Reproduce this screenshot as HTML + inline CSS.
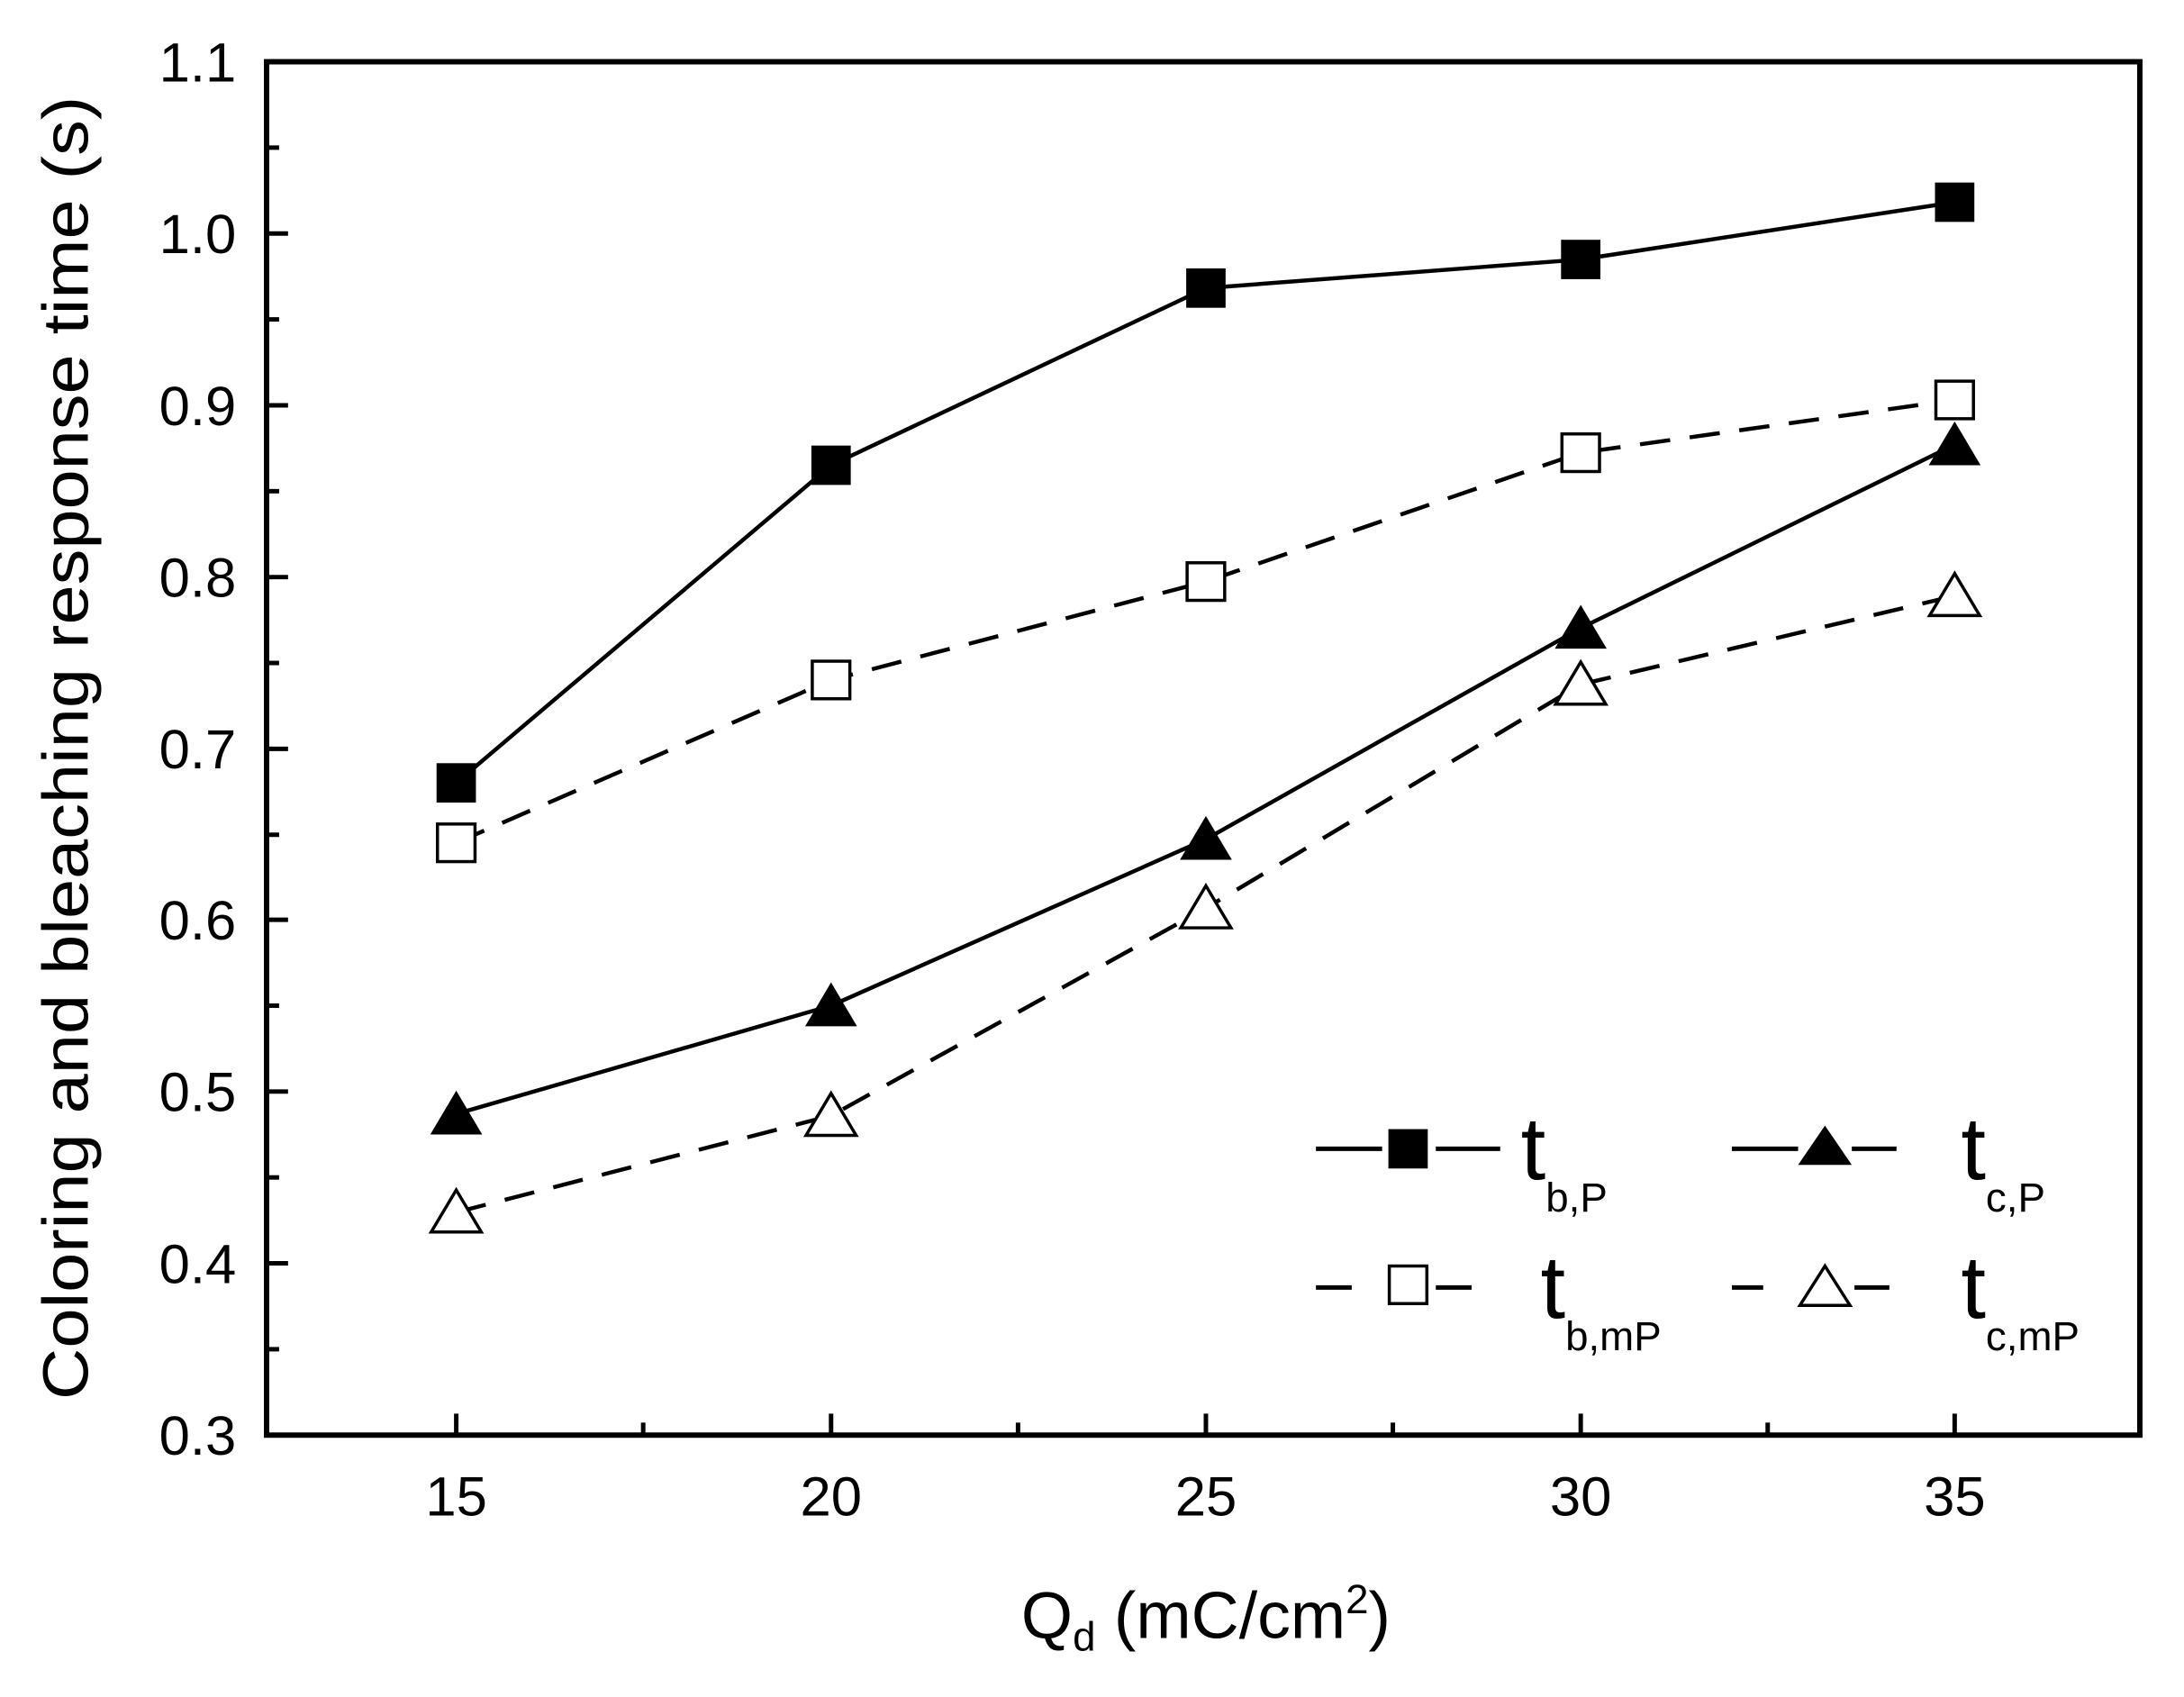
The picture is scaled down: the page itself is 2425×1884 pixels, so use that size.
<!DOCTYPE html>
<html><head><meta charset="utf-8"><style>
html,body{margin:0;padding:0;background:#fff;}
svg{display:block;}
text{font-family:"Liberation Sans",Arial,sans-serif;fill:#000;}
</style></head><body>
<svg width="2425" height="1884" viewBox="0 0 2425 1884" xmlns="http://www.w3.org/2000/svg">
<rect width="2425" height="1884" fill="#fff"/>
<g transform="scale(0.9933)">
<rect x="298" y="69" width="2094" height="1535" fill="none" stroke="#000" stroke-width="6"/>
<g stroke="#000" stroke-width="5">
<line x1="298" y1="1412" x2="322" y2="1412"/>
<line x1="298" y1="1220" x2="322" y2="1220"/>
<line x1="298" y1="1028" x2="322" y2="1028"/>
<line x1="298" y1="837" x2="322" y2="837"/>
<line x1="298" y1="645" x2="322" y2="645"/>
<line x1="298" y1="453" x2="322" y2="453"/>
<line x1="298" y1="261" x2="322" y2="261"/>
<line x1="298" y1="1508" x2="312" y2="1508"/>
<line x1="298" y1="1316" x2="312" y2="1316"/>
<line x1="298" y1="1124" x2="312" y2="1124"/>
<line x1="298" y1="933" x2="312" y2="933"/>
<line x1="298" y1="741" x2="312" y2="741"/>
<line x1="298" y1="549" x2="312" y2="549"/>
<line x1="298" y1="357" x2="312" y2="357"/>
<line x1="298" y1="165" x2="312" y2="165"/>
<line x1="510" y1="1604" x2="510" y2="1580"/>
<line x1="929" y1="1604" x2="929" y2="1580"/>
<line x1="1348" y1="1604" x2="1348" y2="1580"/>
<line x1="1767" y1="1604" x2="1767" y2="1580"/>
<line x1="2185" y1="1604" x2="2185" y2="1580"/>
<line x1="719" y1="1604" x2="719" y2="1590"/>
<line x1="1138" y1="1604" x2="1138" y2="1590"/>
<line x1="1557" y1="1604" x2="1557" y2="1590"/>
<line x1="1976" y1="1604" x2="1976" y2="1590"/>
</g>
<g font-size="62" text-anchor="end">
<text x="264" y="1626">0.3</text>
<text x="264" y="1434">0.4</text>
<text x="264" y="1242">0.5</text>
<text x="264" y="1050">0.6</text>
<text x="264" y="859">0.7</text>
<text x="264" y="667">0.8</text>
<text x="264" y="475">0.9</text>
<text x="264" y="283">1.0</text>
<text x="264" y="91">1.1</text>
</g>
<g font-size="62" text-anchor="middle">
<text x="510" y="1694">15</text>
<text x="929" y="1694">20</text>
<text x="1348" y="1694">25</text>
<text x="1767" y="1694">30</text>
<text x="2185" y="1694">35</text>
</g>
<text x="1348" y="1831" font-size="74" text-anchor="middle">Q<tspan font-size="46" dy="14">d</tspan><tspan dy="-14"> (mC/cm</tspan><tspan font-size="46" dy="-28">2</tspan><tspan dy="28">)</tspan></text>
<text transform="translate(98,836) rotate(-90)" font-size="72" text-anchor="middle" textLength="1457" lengthAdjust="spacingAndGlyphs">Coloring and bleaching response time (s)</text>
<g fill="none" stroke="#000" stroke-width="4.5">
<polyline points="510,875 929,520 1348,322 1767,290 2185,226"/>
<polyline points="510,1245 929,1124 1348,938 1767,702 2185,497"/>
<polyline stroke-dasharray="34,22" points="510,942 929,760 1348,650 1767,506 2185,447"/>
<polyline stroke-dasharray="34,22" points="510,1355 929,1247 1348,1015 1767,765 2185,666"/>
</g>
<g fill="#000">
<rect x="488" y="853" width="44" height="44"/>
<rect x="907" y="498" width="44" height="44"/>
<rect x="1326" y="300" width="44" height="44"/>
<rect x="1745" y="268" width="44" height="44"/>
<rect x="2163" y="204" width="44" height="44"/>
</g>
<g fill="#fff" stroke="#000" stroke-width="3.5">
<rect x="489" y="921" width="42" height="42"/>
<rect x="908" y="739" width="42" height="42"/>
<rect x="1327" y="629" width="42" height="42"/>
<rect x="1746" y="485" width="42" height="42"/>
<rect x="2164" y="426" width="42" height="42"/>
</g>
<g fill="#000">
<polygon points="510,1219 481,1268 539,1268"/>
<polygon points="929,1098 900,1147 958,1147"/>
<polygon points="1348,912 1319,961 1377,961"/>
<polygon points="1767,676 1738,725 1796,725"/>
<polygon points="2185,471 2156,520 2214,520"/>
</g>
<g fill="#fff" stroke="#000" stroke-width="3.5">
<polygon points="510,1330 482,1377 538,1377"/>
<polygon points="929,1222 901,1269 957,1269"/>
<polygon points="1348,990 1320,1037 1376,1037"/>
<polygon points="1767,740 1739,787 1795,787"/>
<polygon points="2185,641 2157,688 2213,688"/>
</g>
<g stroke="#000" stroke-width="5">
<line x1="1471" y1="1284" x2="1545" y2="1284"/>
<line x1="1605" y1="1284" x2="1677" y2="1284"/>
<line x1="1471" y1="1439" x2="1511" y2="1439"/>
<line x1="1605" y1="1439" x2="1645" y2="1439"/>
<line x1="1936" y1="1284" x2="2010" y2="1284"/>
<line x1="2070" y1="1284" x2="2120" y2="1284"/>
<line x1="1936" y1="1439" x2="1971" y2="1439"/>
<line x1="2073" y1="1439" x2="2112" y2="1439"/>
</g>
<rect x="1552" y="1262" width="44" height="44" fill="#000"/>
<rect x="1553" y="1415" width="42" height="42" fill="#fff" stroke="#000" stroke-width="3.5"/>
<polygon points="2040,1258 2010,1302 2070,1302" fill="#000"/>
<polygon points="2040,1415 2012,1459 2068,1459" fill="#fff" stroke="#000" stroke-width="3.5"/>
<g font-size="100">
<text x="1700" y="1318">t<tspan font-size="46" dy="36">b,P</tspan></text>
<text x="1722" y="1473">t<tspan font-size="46" dy="36">b,mP</tspan></text>
<text x="2192" y="1318">t<tspan font-size="46" dy="36">c,P</tspan></text>
<text x="2192" y="1473">t<tspan font-size="46" dy="36">c,mP</tspan></text>
</g>
</g>
</svg>
</body></html>
